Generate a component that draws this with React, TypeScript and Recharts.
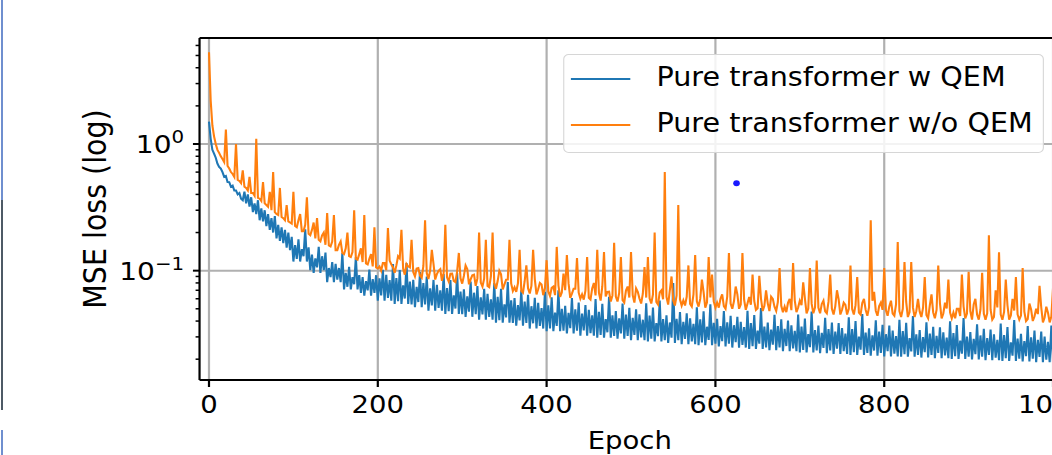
import React from 'react';
import {
  LineChart,
  Line,
  XAxis,
  YAxis,
  CartesianGrid,
  Legend,
  ReferenceLine,
  ReferenceDot,
} from 'recharts';

// ---------- data (one value every 2 epochs) ----------
const EPOCH_STEP = 2;

const W_QEM: number[] = [
  // 0 - 98
  1.5, 1.1, 0.9, 0.84, 0.78, 0.7, 0.66, 0.64, 0.6, 0.55,
  0.56, 0.5, 0.5, 0.46, 0.47, 0.43, 0.43, 0.4, 0.41, 0.37,
  0.36, 0.42, 0.34, 0.4, 0.32, 0.38, 0.29, 0.34, 0.28, 0.36,
  0.25, 0.31, 0.245, 0.3, 0.225, 0.28, 0.21, 0.26, 0.2, 0.27,
  0.18, 0.23, 0.172, 0.22, 0.165, 0.21, 0.152, 0.2, 0.145, 0.185,
  // 100 - 198
  0.118, 0.159, 0.124, 0.177, 0.118, 0.148, 0.13, 0.212, 0.118, 0.153,
  0.101, 0.134, 0.096, 0.125, 0.106, 0.154, 0.096, 0.13, 0.101, 0.139,
  0.081, 0.105, 0.089, 0.117, 0.081, 0.113, 0.085, 0.105, 0.081, 0.138,
  0.071, 0.096, 0.0746, 0.107, 0.071, 0.0888, 0.0781, 0.128, 0.071, 0.0923,
  0.0667, 0.0889, 0.0635, 0.0826, 0.0699, 0.102, 0.0635, 0.0857, 0.0667, 0.0921,
  // 200 - 298
  0.058, 0.087, 0.0638, 0.1015, 0.058, 0.0928, 0.0609, 0.0841, 0.058, 0.113,
  0.0547, 0.0875, 0.0574, 0.1012, 0.0547, 0.0766, 0.0602, 0.1149, 0.0547, 0.0821,
  0.054, 0.0848, 0.0514, 0.0745, 0.0565, 0.0977, 0.0514, 0.0797, 0.054, 0.09,
  0.0483, 0.0725, 0.0531, 0.0845, 0.0483, 0.0773, 0.0507, 0.07, 0.0483, 0.0942,
  0.0456, 0.073, 0.0479, 0.0844, 0.0456, 0.0638, 0.0502, 0.0958, 0.0456, 0.0684,
  // 300 - 398
  0.0454, 0.0713, 0.0432, 0.0626, 0.0475, 0.0821, 0.0432, 0.067, 0.0454, 0.0756,
  0.041, 0.0615, 0.0451, 0.0718, 0.041, 0.0656, 0.0431, 0.0595, 0.041, 0.08,
  0.0388, 0.0621, 0.0407, 0.0718, 0.0388, 0.0543, 0.0427, 0.0815, 0.0388, 0.0582,
  0.0386, 0.0607, 0.0368, 0.0534, 0.0405, 0.0699, 0.0368, 0.057, 0.0386, 0.0644,
  0.0349, 0.0524, 0.0384, 0.0611, 0.0349, 0.0558, 0.0366, 0.0506, 0.0349, 0.0681,
  // 400 - 498
  0.0333, 0.0533, 0.035, 0.0616, 0.0333, 0.0466, 0.0366, 0.0699, 0.0333, 0.05,
  0.0336, 0.0528, 0.032, 0.0464, 0.0352, 0.0608, 0.032, 0.0496, 0.0336, 0.056,
  0.0306, 0.0459, 0.0337, 0.0536, 0.0306, 0.049, 0.0321, 0.0444, 0.0306, 0.0597,
  0.0296, 0.0474, 0.0311, 0.0548, 0.0296, 0.0414, 0.0326, 0.0622, 0.0296, 0.0444,
  0.0305, 0.0479, 0.029, 0.0421, 0.0319, 0.0551, 0.029, 0.045, 0.0305, 0.0508,
  // 500 - 598
  0.0283, 0.0425, 0.0311, 0.0495, 0.0283, 0.0453, 0.0297, 0.041, 0.0283, 0.0552,
  0.0276, 0.0442, 0.029, 0.0511, 0.0276, 0.0386, 0.0304, 0.058, 0.0276, 0.0414,
  0.0282, 0.0444, 0.0269, 0.039, 0.0296, 0.08, 0.0269, 0.0417, 0.0282, 0.0471,
  0.0263, 0.0395, 0.0289, 0.046, 0.0263, 0.0421, 0.0276, 0.0381, 0.0263, 0.0513,
  0.0258, 0.0413, 0.0271, 0.0477, 0.0258, 0.0361, 0.0284, 0.0542, 0.0258, 0.0387,
  // 600 - 698
  0.0265, 0.0416, 0.0252, 0.0365, 0.0277, 0.0479, 0.0252, 0.0391, 0.0265, 0.0441,
  0.0247, 0.0371, 0.0272, 0.0432, 0.0247, 0.0395, 0.0259, 0.0358, 0.0247, 0.0482,
  0.0241, 0.0386, 0.0253, 0.0446, 0.0241, 0.0337, 0.0265, 0.0506, 0.0241, 0.0362,
  0.0248, 0.0389, 0.0236, 0.0342, 0.026, 0.0448, 0.0236, 0.0366, 0.0248, 0.0413,
  0.0231, 0.0347, 0.0254, 0.0404, 0.0231, 0.037, 0.0243, 0.0335, 0.0231, 0.045,
  // 700 - 798
  0.0226, 0.0362, 0.0237, 0.0418, 0.0226, 0.0316, 0.0249, 0.0475, 0.0226, 0.0339,
  0.0234, 0.0368, 0.0223, 0.0323, 0.0245, 0.0424, 0.0223, 0.0346, 0.0234, 0.039,
  0.022, 0.033, 0.0242, 0.0385, 0.022, 0.0352, 0.0231, 0.0319, 0.022, 0.0429,
  0.0216, 0.0346, 0.0227, 0.04, 0.0216, 0.0302, 0.0238, 0.0454, 0.0216, 0.0324,
  0.0224, 0.0351, 0.0213, 0.0309, 0.0234, 0.0405, 0.0213, 0.033, 0.0224, 0.0373,
  // 800 - 898
  0.021, 0.0315, 0.0231, 0.0368, 0.021, 0.0336, 0.0221, 0.0305, 0.021, 0.041,
  0.0209, 0.0334, 0.0219, 0.0387, 0.0209, 0.0293, 0.023, 0.0439, 0.0209, 0.0314,
  0.0216, 0.034, 0.0206, 0.0299, 0.0227, 0.0391, 0.0206, 0.0319, 0.0216, 0.0361,
  0.0204, 0.0306, 0.0224, 0.0357, 0.0204, 0.0326, 0.0214, 0.0296, 0.0204, 0.0398,
  0.0201, 0.0322, 0.0211, 0.0372, 0.0201, 0.0281, 0.0221, 0.0422, 0.0201, 0.0302,
  // 900 - 998
  0.0209, 0.0328, 0.0199, 0.0289, 0.0219, 0.0378, 0.0199, 0.0308, 0.0209, 0.0348,
  0.0196, 0.0294, 0.0216, 0.0343, 0.0196, 0.0314, 0.0206, 0.0284, 0.0196, 0.0382,
  0.0194, 0.031, 0.0204, 0.0359, 0.0194, 0.0272, 0.0213, 0.0407, 0.0194, 0.0291,
  0.0202, 0.0317, 0.0192, 0.0278, 0.0211, 0.0365, 0.0192, 0.0298, 0.0202, 0.0336,
  0.0189, 0.0284, 0.0208, 0.0331, 0.0189, 0.0302, 0.0198, 0.0274, 0.0189, 0.0369,
  // 1000
  0.0188,
];

const WO_QEM: number[] = [
  // 0 - 98
  5.3, 2.2, 1.4, 1.15, 1.0, 0.9, 0.85, 0.8, 0.76, 0.72,
  1.3, 0.67, 0.64, 0.6, 0.58, 0.55, 1.0, 0.52, 0.51, 0.49,
  0.62, 0.46, 0.45, 0.43, 0.55, 0.41, 0.41, 0.39, 1.1, 0.375,
  0.37, 0.355, 0.5, 0.34, 0.33, 0.32, 0.42, 0.3, 0.6, 0.29,
  0.28, 0.275, 0.45, 0.265, 0.26, 0.25, 0.33, 0.245, 0.24, 0.235,
  // 100 - 198
  0.42, 0.225, 0.22, 0.25, 0.28, 0.205, 0.205, 0.23, 0.38, 0.195,
  0.19, 0.21, 0.24, 0.18, 0.26, 0.175, 0.17, 0.19, 0.2, 0.16,
  0.285, 0.158, 0.155, 0.17, 0.275, 0.145, 0.145, 0.16, 0.17, 0.138,
  0.135, 0.15, 0.2, 0.13, 0.128, 0.14, 0.3, 0.124, 0.122, 0.135,
  0.15, 0.117, 0.275, 0.114, 0.112, 0.124, 0.135, 0.108, 0.22, 0.106,
  // 200
  0.104,
  // 202 - 240
  0.108, 0.1, 0.115, 0.115, 0.101, 0.217, 0.12, 0.112, 0.106, 0.096,
  0.11, 0.13, 0.125, 0.21, 0.104, 0.093, 0.113, 0.108, 0.106, 0.175,
  // 242 - 280
  0.0974, 0.09, 0.104, 0.105, 0.0914, 0.088, 0.109, 0.25, 0.0957, 0.086,
  0.1, 0.146, 0.113, 0.085, 0.094, 0.1, 0.103, 0.083, 0.0957, 0.23,
  // 282 - 320
  0.0885, 0.082, 0.0948, 0.095, 0.083, 0.081, 0.0988, 0.138, 0.0869, 0.079,
  0.0909, 0.11, 0.103, 0.078, 0.0853, 0.092, 0.0932, 0.076, 0.0869, 0.2,
  // 322 - 360
  0.0806, 0.075, 0.0864, 0.175, 0.0756, 0.074, 0.09, 0.2, 0.0792, 0.072,
  0.0828, 0.1, 0.0936, 0.071, 0.0778, 0.085, 0.085, 0.175, 0.0792, 0.069,
  // 362 - 400
  0.0739, 0.068, 0.0792, 0.146, 0.0693, 0.067, 0.0825, 0.11, 0.0726, 0.066,
  0.0759, 0.146, 0.0858, 0.065, 0.0713, 0.08, 0.0779, 0.064, 0.0726, 0.121,
  // 402 - 440
  0.0683, 0.063, 0.0732, 0.075, 0.0641, 0.154, 0.0763, 0.062, 0.0671, 0.095,
  0.0702, 0.133, 0.0793, 0.061, 0.0659, 0.072, 0.072, 0.126, 0.0671, 0.06,
  // 442 - 480
  0.065, 0.059, 0.0696, 0.128, 0.0609, 0.059, 0.0725, 0.08, 0.0638, 0.146,
  0.0667, 0.058, 0.0754, 0.14, 0.0626, 0.068, 0.0684, 0.057, 0.0638, 0.166,
  // 482 - 520
  0.0624, 0.057, 0.0668, 0.128, 0.0585, 0.056, 0.0696, 0.075, 0.0613, 0.14,
  0.0641, 0.056, 0.0724, 0.068, 0.0602, 0.055, 0.0657, 0.107, 0.0613, 0.128,
  // 522 - 560
  0.0605, 0.055, 0.0648, 0.2, 0.0567, 0.054, 0.0675, 0.07, 0.0594, 0.6,
  0.0621, 0.054, 0.0702, 0.09, 0.0583, 0.053, 0.0637, 0.33, 0.0594, 0.053,
  // 562 - 600
  0.0582, 0.053, 0.0624, 0.11, 0.0546, 0.052, 0.065, 0.133, 0.0572, 0.052,
  0.0598, 0.085, 0.0676, 0.051, 0.0562, 0.128, 0.0614, 0.093, 0.0572, 0.051,
  // 602 - 640
  0.056, 0.051, 0.06, 0.065, 0.0525, 0.05, 0.0625, 0.138, 0.055, 0.05,
  0.0575, 0.075, 0.065, 0.05, 0.054, 0.138, 0.059, 0.049, 0.055, 0.062,
  // 642 - 680
  0.0538, 0.093, 0.0576, 0.049, 0.0504, 0.091, 0.06, 0.048, 0.0528, 0.07,
  0.0552, 0.048, 0.0624, 0.06, 0.0518, 0.048, 0.0566, 0.105, 0.0528, 0.047,
  // 682 - 720
  0.0521, 0.047, 0.0558, 0.06, 0.0488, 0.115, 0.0581, 0.047, 0.0512, 0.058,
  0.0535, 0.081, 0.0605, 0.046, 0.0502, 0.105, 0.0549, 0.046, 0.0512, 0.12,
  // 722 - 760
  0.051, 0.046, 0.0546, 0.058, 0.0478, 0.046, 0.0569, 0.093, 0.05, 0.045,
  0.0523, 0.07, 0.0592, 0.045, 0.0491, 0.056, 0.0537, 0.045, 0.05, 0.11,
  // 762 - 800
  0.0498, 0.045, 0.0534, 0.089, 0.0467, 0.045, 0.0556, 0.06, 0.049, 0.044,
  0.0512, 0.25, 0.0579, 0.068, 0.0481, 0.044, 0.0525, 0.056, 0.049, 0.105,
  // 802 - 840
  0.0487, 0.044, 0.0522, 0.058, 0.0457, 0.044, 0.0544, 0.168, 0.0479, 0.043,
  0.05, 0.117, 0.0566, 0.043, 0.047, 0.117, 0.0513, 0.043, 0.0479, 0.06,
  // 842 - 880
  0.0476, 0.043, 0.051, 0.089, 0.0446, 0.042, 0.0531, 0.065, 0.0468, 0.042,
  0.0489, 0.11, 0.0553, 0.042, 0.0459, 0.056, 0.0502, 0.085, 0.0468, 0.042,
  // 882 - 920
  0.0467, 0.042, 0.05, 0.05, 0.0438, 0.093, 0.0521, 0.042, 0.0459, 0.098,
  0.048, 0.041, 0.0542, 0.06, 0.045, 0.041, 0.0492, 0.096, 0.0459, 0.041,
  // 922 - 960
  0.0459, 0.19, 0.0492, 0.041, 0.0431, 0.07, 0.0513, 0.14, 0.0451, 0.041,
  0.0472, 0.085, 0.0533, 0.041, 0.0443, 0.06, 0.0484, 0.089, 0.0451, 0.041,
  // 962 - 1000
  0.0442, 0.105, 0.0474, 0.04, 0.0415, 0.055, 0.0494, 0.04, 0.0435, 0.05,
  0.0454, 0.076, 0.0514, 0.039, 0.0427, 0.052, 0.0466, 0.039, 0.0435, 0.073,
];

const SERIES_NAMES = ['Pure transformer w QEM', 'Pure transformer w/o QEM'];
const SERIES_KEYS = ['wQem', 'woQem'];
const SERIES_COLORS = ['#1f77b4', '#ff7f0e'];

const X_TICKS = [0, 200, 400, 600, 800, 1000];
const X_DOMAIN: [number, number] = [-11.2, 1008.2];
const Y_DOMAIN: [number, number] = [0.0137, 6.87];
const Y_MAJOR = [0.1, 1];
const Y_MINOR = [
  0.02, 0.03, 0.04, 0.05, 0.06, 0.07, 0.08, 0.09,
  0.2, 0.3, 0.4, 0.5, 0.6, 0.7, 0.8, 0.9,
  2, 3, 4, 5, 6,
];
const Y_TICKS = [...Y_MINOR, ...Y_MAJOR].sort((a, b) => a - b);

const MARKER_EPOCH = 625;
const MARKER_LOSS = 0.49;

const X_LABEL = 'Epoch';
const Y_LABEL = 'MSE loss (log)';

const data = W_QEM.map((v, i) => ({
  epoch: i * EPOCH_STEP,
  wQem: v,
  woQem: WO_QEM[i],
}));

// ---------- layout ----------
const STRETCH = 1.1; // the reference image is horizontally stretched
const CHART_W = 966;
const CHART_H = 455;
const FONT = '"DejaVu Sans", Verdana, sans-serif';
const TICK_SIZE_Y = 6;
const TICK_MARGIN_Y = 8;

const YTick = (props: any) => {
  const { x, y, payload } = props;
  const v = payload.value;
  const major = Y_MAJOR.includes(v);
  const axisRight = x + TICK_MARGIN_Y + TICK_SIZE_Y;
  const len = major ? 6 : 3.6;
  const exp = Math.round(Math.log10(v));
  const expStr = exp < 0 ? '\u2212' + String(-exp) : String(exp);
  return (
    <g>
      <line
        x1={axisRight - len}
        x2={axisRight}
        y1={y}
        y2={y}
        stroke="#000"
        strokeWidth={major ? 2 : 1.5}
      />
      {major && (
        <text
          x={x}
          y={y + 9}
          textAnchor="end"
          fontFamily={FONT}
          fontSize={25.5}
          fill="#000"
        >
          10
          <tspan dy={-10} fontSize={18}>
            {expStr}
          </tspan>
        </text>
      )}
    </g>
  );
};

const YLabel = (props: any) => {
  const vb = props.viewBox || { x: 0, y: 38, width: 181, height: 342 };
  const cx = vb.x + 96.4;
  const cy = vb.y + vb.height / 2;
  return (
    <text
      x={cx}
      y={cy}
      transform={`rotate(-90, ${cx}, ${cy})`}
      textAnchor="middle"
      fontFamily={FONT}
      fontSize={28.5}
      fill="#000"
    >
      {Y_LABEL}
    </text>
  );
};

const ROW_Y = [24, 70];

const LegendBox = () => (
  <div
    style={{
      position: 'relative',
      width: '100%',
      height: '100%',
      boxSizing: 'border-box',
      border: '1.5px solid #d6d6d6',
      borderRadius: 5,
      background: 'rgba(255,255,255,0.85)',
      fontFamily: FONT,
      fontSize: 26,
      color: '#000',
    }}
  >
    {SERIES_NAMES.map((name, i) => (
      <React.Fragment key={name}>
        <div
          style={{
            position: 'absolute',
            left: 6,
            top: ROW_Y[i] - 1.5,
            width: 54.5,
            height: 2,
            background: SERIES_COLORS[i],
          }}
        />
        <div
          style={{
            position: 'absolute',
            left: 84,
            top: ROW_Y[i] - 17.5,
            height: 30,
            lineHeight: '30px',
            whiteSpace: 'nowrap',
          }}
        >
          {name}
        </div>
      </React.Fragment>
    ))}
  </div>
);

export default function App() {
  return (
    <div
      style={{
        position: 'absolute',
        left: 0,
        top: 0,
        width: 1052,
        height: 455,
        overflow: 'hidden',
        background: '#fff',
      }}
    >
      {/* thin edge strip visible at the left of the reference crop */}
      <div style={{ position: 'absolute', left: 1, top: 0, width: 2, height: 200, background: '#6f8fcf' }} />
      <div style={{ position: 'absolute', left: 1, top: 200, width: 2, height: 210, background: '#4d5a66' }} />
      <div style={{ position: 'absolute', left: 1, top: 430, width: 2, height: 25, background: '#6f8fcf' }} />
      <div
        style={{
          position: 'absolute',
          left: 0,
          top: 0,
          width: CHART_W,
          height: CHART_H,
          transform: `scaleX(${STRETCH})`,
          transformOrigin: '0 0',
        }}
      >
        <LineChart
          width={CHART_W}
          height={CHART_H}
          data={data}
          margin={{ top: 38, right: 2.4, bottom: 0, left: 0 }}
        >
          <CartesianGrid
            stroke="#b0b0b0"
            strokeWidth={2}
            horizontalValues={Y_MAJOR}
            verticalValues={X_TICKS}
          />
          <XAxis
            dataKey="epoch"
            type="number"
            domain={X_DOMAIN}
            allowDataOverflow
            ticks={X_TICKS}
            interval={0}
            height={75}
            tickSize={7}
            tickMargin={8}
            axisLine={{ stroke: '#000', strokeWidth: 2 }}
            tickLine={{ stroke: '#000', strokeWidth: 2 }}
            tick={{ fontSize: 25, fill: '#000', fontFamily: FONT }}
            label={{
              value: X_LABEL,
              position: 'insideBottom',
              offset: 6.4,
              fontSize: 25,
              fill: '#000',
              fontFamily: FONT,
            }}
          />
          <YAxis
            type="number"
            scale="log"
            domain={Y_DOMAIN}
            allowDataOverflow
            ticks={Y_TICKS}
            interval={0}
            width={181.4}
            tickSize={TICK_SIZE_Y}
            tickMargin={TICK_MARGIN_Y}
            axisLine={{ stroke: '#000', strokeWidth: 2 }}
            tickLine={false}
            tick={<YTick />}
            label={<YLabel />}
          />
          <ReferenceLine y={Y_DOMAIN[1]} stroke="#000" strokeWidth={2} ifOverflow="visible" />
          <ReferenceLine x={X_DOMAIN[1]} stroke="#000" strokeWidth={2} ifOverflow="visible" />
          {SERIES_KEYS.map((k, i) => (
            <Line
              key={k}
              type="linear"
              dataKey={k}
              name={SERIES_NAMES[i]}
              stroke={SERIES_COLORS[i]}
              strokeWidth={1.9}
              dot={false}
              activeDot={false}
              isAnimationActive={false}
            />
          ))}
          <ReferenceDot
            x={MARKER_EPOCH}
            y={MARKER_LOSS}
            r={3}
            fill="#1a1aff"
            stroke="none"
            ifOverflow="visible"
          />
          <Legend
            layout="vertical"
            align="center"
            verticalAlign="middle"
            wrapperStyle={{
              position: 'absolute',
              left: 511.8,
              top: 54,
              width: 437.3,
              height: 99,
            }}
            content={() => <LegendBox />}
          />
        </LineChart>
      </div>
    </div>
  );
}
